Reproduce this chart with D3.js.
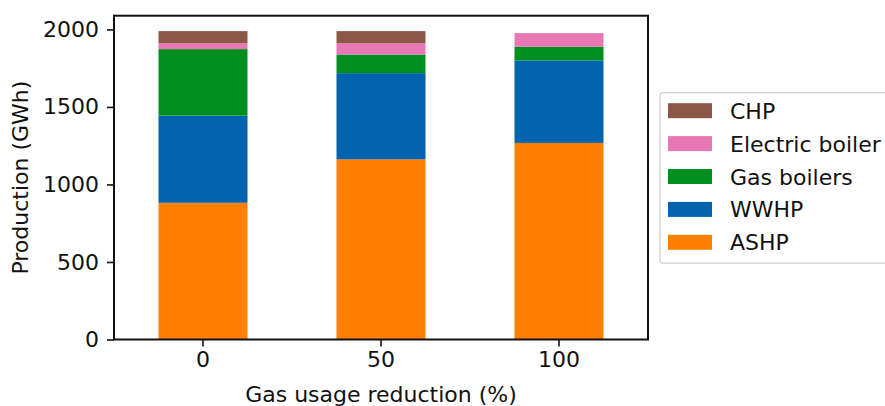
<!DOCTYPE html>
<html>
<head>
<meta charset="utf-8">
<script src="https://cdn.jsdelivr.net/npm/d3@7"></script>
<style>
  html, body { margin: 0; padding: 0; background: #fff; }
  svg { display: block; }
  text { font-family: "DejaVu Sans", sans-serif; fill: #111; }
</style>
</head>
<body>
<svg id="chart" width="885" height="406"></svg>
<script>
// Gas usage reduction scenarios (x axis)
const categories = ["0", "50", "100"];
// Production per technology (GWh), stacked bottom to top
const ashp = [882, 1162, 1268];
const wwhp = [562, 556, 532];
const gasBoilers = [429, 120, 88];
const electricBoiler = [38, 73, 88];
const chp = [78, 78, 0];

const seriesNames = ["ASHP", "WWHP", "Gas boilers", "Electric boiler", "CHP"];
const seriesValues = [ashp, wwhp, gasBoilers, electricBoiler, chp];
const seriesColors = ["#ff7f00", "#0063ae", "#008f1e", "#e777b5", "#8c5747"];
const yTicks = [0, 500, 1000, 1500, 2000];

const rows = categories.map((c, i) => {
  const r = { cat: c };
  seriesNames.forEach((s, j) => { r[s] = seriesValues[j][i]; });
  return r;
});
const stacked = d3.stack().keys(seriesNames)(rows);

const svg = d3.select("#chart");
const plot = { left: 114, right: 648, top: 15.7, bottom: 339.5 };

const yMax = d3.max(rows, r => d3.sum(seriesNames, s => r[s])) * 1.05;
const x = d3.scaleBand().domain(categories).range([plot.left, plot.right]).paddingInner(0.5).paddingOuter(0.25);
const y = d3.scaleLinear().domain([0, yMax]).range([plot.bottom, plot.top]);

// stacked bars
svg.append("g").selectAll("g")
  .data(stacked)
  .join("g")
  .attr("fill", (d, i) => seriesColors[i])
  .selectAll("rect")
  .data(d => d)
  .join("rect")
  .attr("x", d => x(d.data.cat))
  .attr("width", x.bandwidth())
  .attr("y", d => y(d[1]))
  .attr("height", d => y(d[0]) - y(d[1]));

// axes
const fontSize = 22;
const yAxis = svg.append("g")
  .attr("transform", `translate(${plot.left},0)`)
  .call(d3.axisLeft(y).tickValues(yTicks).tickFormat(d3.format("d")).tickSize(7).tickPadding(8));
const xAxis = svg.append("g")
  .attr("transform", `translate(0,${plot.bottom})`)
  .call(d3.axisBottom(x).tickSize(7).tickPadding(5));
[xAxis, yAxis].forEach(g => {
  g.select(".domain").remove();
  g.selectAll(".tick line").attr("stroke", "#111").attr("stroke-width", 1.6);
  g.selectAll(".tick text").attr("font-size", fontSize).attr("font-family", "DejaVu Sans").attr("fill", "#111");
});

// frame
svg.append("rect")
  .attr("x", plot.left).attr("y", plot.top)
  .attr("width", plot.right - plot.left).attr("height", plot.bottom - plot.top)
  .attr("fill", "none").attr("stroke", "#111").attr("stroke-width", 2);

// axis titles
svg.append("text")
  .attr("x", (plot.left + plot.right) / 2).attr("y", 402)
  .attr("text-anchor", "middle").attr("font-size", fontSize)
  .text("Gas usage reduction (%)");
svg.append("text")
  .attr("transform", `translate(28,${(plot.top + plot.bottom) / 2}) rotate(-90)`)
  .attr("text-anchor", "middle").attr("font-size", fontSize)
  .text("Production (GWh)");

// legend (top entry is the top of the stack)
const legend = svg.append("g");
legend.append("rect")
  .attr("x", 660).attr("y", 92.7).attr("width", 240).attr("height", 170.5)
  .attr("rx", 3).attr("fill", "#fff").attr("stroke", "#d0d0d0").attr("stroke-width", 1.2);
const order = seriesNames.map((s, i) => i).reverse();
order.forEach((si, k) => {
  const cy = 110.7 + k * 32.9;
  legend.append("rect")
    .attr("x", 668).attr("y", cy - 7.5).attr("width", 44).attr("height", 15)
    .attr("fill", seriesColors[si]);
  legend.append("text")
    .attr("x", 730).attr("y", cy + 8)
    .attr("font-size", fontSize)
    .text(seriesNames[si]);
});
</script>
</body>
</html>
